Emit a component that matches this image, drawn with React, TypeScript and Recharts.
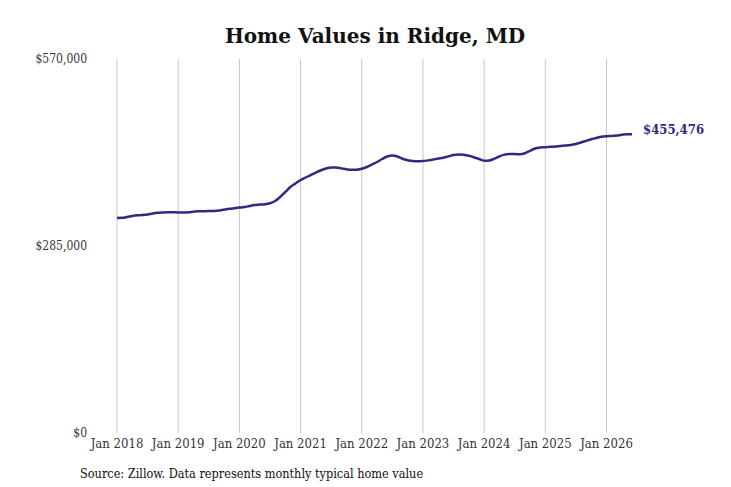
import { LineChart, Line, XAxis, YAxis, ReferenceLine } from "recharts";

// monthly typical home value, Jan 2018 onward
const months = Array.from({ length: 102 }, (_, i) => i);
const homeValues = [
  327700, 328000, 329200, 330700, 331800, 332200, 333000, 334500, 335600, 336100, 336400, 336400,
  336200, 336200, 336500, 337300, 337900, 338000, 338200, 338500, 339100, 340300, 341700, 342600,
  343500, 344400, 346000, 347500, 348100, 348700, 350200, 353600, 359700, 367300, 374900, 380300,
  385600, 389400, 393200, 397000, 400500, 403100, 404600, 404500, 403300, 401900, 401100, 401300,
  402700, 405400, 409200, 413000, 417600, 421400, 422900, 421400, 417900, 415800, 414500, 414100,
  414500, 415500, 416800, 418200, 419600, 421600, 423700, 424600, 424000, 422500, 420300, 417600,
  415000, 415300, 418100, 421700, 424300, 425200, 425200, 424800, 426400, 430100, 433600, 435100,
  435600, 436200, 436600, 437400, 438000, 438900, 440500, 442700, 445300, 447800, 449600, 451400,
  452300, 452600, 453300, 454500, 455400, 455476,
];
const yearTicks = [0, 12, 24, 36, 48, 60, 72, 84, 96];
const yearLabels = ["Jan 2018", "Jan 2019", "Jan 2020", "Jan 2021", "Jan 2022", "Jan 2023", "Jan 2024", "Jan 2025", "Jan 2026"];
const valueTicks = [0, 285000, 570000];

const data = months.map((m, i) => ({ month: m, value: homeValues[i] }));

const LINE_COLOR = "#2f2a80";
const FONT = "'DejaVu Serif Condensed', 'DejaVu Serif', serif";

const EndLabel = (props: any) => {
  const { x, y, index } = props;
  if (index !== data.length - 1) return null;
  return (
    <text x={x + 11} y={y - 5} dy="0.35em" fill={LINE_COLOR} fontSize={13} fontWeight="bold" fontFamily={FONT}>
      ${homeValues[homeValues.length - 1].toLocaleString("en-US")}
    </text>
  );
};

export default function App() {
  return (
    <div style={{ position: "absolute", left: 0, top: 0, width: 731, height: 487, background: "#fff" }}>
      <div
        style={{
          position: "absolute",
          top: 24,
          left: 0,
          width: 750,
          textAlign: "center",
          fontFamily: "'DejaVu Serif', serif",
          fontWeight: "bold",
          fontSize: 20,
          color: "#111",
        }}
      >
        Home Values in Ridge, MD
      </div>
      <LineChart width={731} height={487} data={data} margin={{ top: 59, right: 99, bottom: 24, left: 0 }}>
        <XAxis
          dataKey="month"
          type="number"
          domain={[0, 101]}
          ticks={yearTicks}
          interval={0}
          tickFormatter={(v) => yearLabels[yearTicks.indexOf(v)]}
          axisLine={false}
          tickLine={false}
          tickSize={0}
          tickMargin={6}
          height={30}
          tick={{ fill: "#333", fontSize: 13, fontFamily: FONT }}
        />
        <YAxis
          domain={[0, 570000]}
          ticks={valueTicks}
          tickFormatter={(v) => `$${v.toLocaleString("en-US")}`}
          axisLine={false}
          tickLine={false}
          tickSize={0}
          tickMargin={30}
          width={117}
          tick={{ fill: "#333", fontSize: 12, fontFamily: FONT }}
        />
        {yearTicks.map((t) => (
          <ReferenceLine key={t} x={t} stroke="#c8c8c8" />
        ))}
        <Line
          type="monotone"
          dataKey="value"
          stroke={LINE_COLOR}
          strokeWidth={2.5}
          dot={false}
          label={<EndLabel />}
          isAnimationActive={false}
        />
      </LineChart>
      <div
        style={{
          position: "absolute",
          top: 466,
          left: 80,
          fontFamily: FONT,
          fontSize: 12.6,
          color: "#111",
        }}
      >
        Source: Zillow. Data represents monthly typical home value
      </div>
    </div>
  );
}
